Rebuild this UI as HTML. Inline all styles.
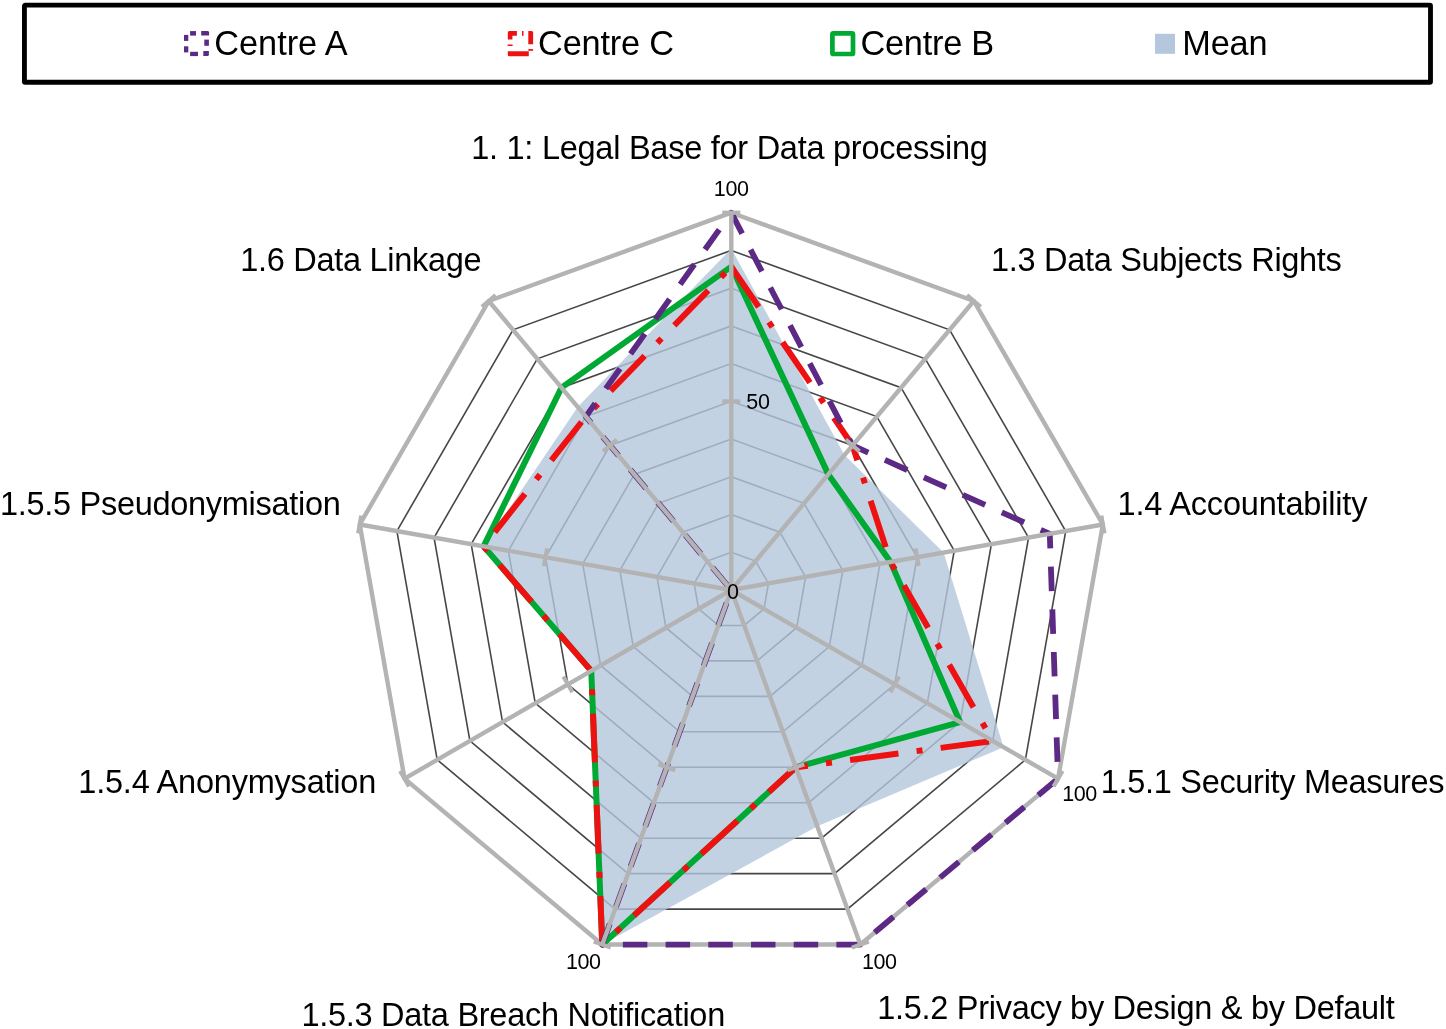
<!DOCTYPE html><html><head><meta charset="utf-8"><style>html,body{margin:0;padding:0;background:#fff;overflow:hidden;}svg{display:block;}text{font-family:"Liberation Sans",sans-serif;}</style></head><body>
<div style="will-change:transform;width:1446px;height:1029px"><svg width="1446" height="1029" viewBox="0 0 1446 1029">
<rect width="1446" height="1029" fill="#fff"/>
<rect x="24.44" y="5.15" width="1406.06" height="77.05" rx="0.8" fill="none" stroke="#000" stroke-width="4.85"/>
<g fill="#5c2a84"><rect x="190.1" y="31.1" width="5.9" height="4.5"/><path d="M201.2 31.1 H207.6 Q209.1 31.1 209.1 32.6 V35.6 H201.2 Z"/><rect x="204.3" y="39.6" width="4.6" height="6.2"/><path d="M203.3 51.1 H208.9 V54.6 Q208.9 56.1 207.4 56.1 H203.3 Z"/><rect x="190.1" y="51.8" width="7.9" height="4.3"/><rect x="184" y="34.9" width="4.3" height="6"/><rect x="184" y="46.3" width="4.3" height="6.1"/></g>
<g fill="#ee1111"><path d="M509.3 31 H516.9 V35.8 H512.4 V39.6 H507.8 V32.5 Q507.8 31 509.3 31 Z"/><rect x="522" y="31" width="1.5" height="4.8"/><path d="M528.3 31 H531.6 Q533.1 31 533.1 32.5 V44.2 H528.3 Z"/><rect x="507.6" y="44.5" width="5" height="1.5"/><rect x="528.3" y="49.1" width="4.8" height="1.7"/><path d="M507.8 51.3 H528.8 V56.2 H509.3 Q507.8 56.2 507.8 54.7 Z"/></g>
<rect x="832.4" y="33.4" width="20.6" height="20.6" rx="1" fill="none" stroke="#00a933" stroke-width="4.7"/>
<rect x="1155" y="33.8" width="20" height="20" fill="#b4c7dc"/>
<polygon points="731.30,552.27 755.55,561.10 768.46,583.45 763.98,608.87 744.20,625.45 718.40,625.45 698.62,608.87 694.14,583.45 707.05,561.10" fill="none" stroke="#474747" stroke-width="1.6"/>
<polygon points="731.30,514.54 779.80,532.19 805.61,576.90 796.65,627.73 757.11,660.91 705.49,660.91 665.95,627.73 656.99,576.90 682.80,532.19" fill="none" stroke="#474747" stroke-width="1.6"/>
<polygon points="731.30,476.81 804.06,503.29 842.77,570.34 829.33,646.60 770.01,696.36 692.59,696.36 633.27,646.60 619.83,570.34 658.54,503.29" fill="none" stroke="#474747" stroke-width="1.6"/>
<polygon points="731.30,439.08 828.31,474.39 879.93,563.79 862.00,665.46 782.92,731.82 679.68,731.82 600.60,665.46 582.67,563.79 634.29,474.39" fill="none" stroke="#474747" stroke-width="1.6"/>
<polygon points="731.30,401.35 852.56,445.49 917.08,557.24 894.68,684.32 795.82,767.27 666.78,767.27 567.92,684.33 545.52,557.24 610.04,445.49" fill="none" stroke="#474747" stroke-width="1.6"/>
<polygon points="731.30,363.62 876.81,416.58 954.24,550.69 927.35,703.19 808.73,802.73 653.87,802.73 535.25,703.19 508.36,550.69 585.79,416.58" fill="none" stroke="#474747" stroke-width="1.6"/>
<polygon points="731.30,325.89 901.07,387.68 991.40,544.14 960.03,722.05 821.63,838.18 640.97,838.18 502.57,722.06 471.20,544.14 561.53,387.68" fill="none" stroke="#474747" stroke-width="1.6"/>
<polygon points="731.30,288.16 925.32,358.78 1028.55,537.59 992.70,740.92 834.54,873.64 628.06,873.64 469.90,740.92 434.05,537.59 537.28,358.78" fill="none" stroke="#474747" stroke-width="1.6"/>
<polygon points="731.30,250.43 949.57,329.87 1065.71,531.03 1025.38,759.78 847.44,909.09 615.16,909.09 437.22,759.79 396.89,531.03 513.03,329.87" fill="none" stroke="#474747" stroke-width="1.6"/>
<polygon points="731.30,212.70 973.82,300.97 1102.87,524.48 1058.05,778.65 860.34,944.55 602.26,944.55 404.55,778.65 359.73,524.48 488.78,300.97" fill="none" stroke="#b3b3b3" stroke-width="4.4" stroke-linejoin="miter"/>
<polygon points="731.30,248.63 844.48,455.12 943.62,552.56 1003.59,747.21 817.33,826.36 602.26,944.55 591.26,670.85 483.59,546.32 577.70,406.95" fill="#b4c7dc" fill-opacity="0.8"/>
<polygon points="731.30,266.60 828.31,474.39 890.54,561.92 960.03,722.05 795.82,767.27 602.26,944.55 591.26,670.85 483.59,546.32 561.53,387.68" fill="none" stroke="#00a933" stroke-width="6" stroke-linejoin="round"/>
<polygon points="731.30,266.60 852.56,445.49 890.54,561.92 992.70,740.92 795.82,767.27 602.26,944.55 591.26,670.85 483.59,546.32 585.79,416.58" fill="none" stroke="#ee1111" stroke-width="6" stroke-linejoin="round" stroke-dasharray="48.8 18.3 6 18.3"/>
<polygon points="731.30,212.70 852.56,445.49 1049.79,533.84 1058.05,778.65 860.34,944.55 602.26,944.55 731.30,590.00 731.30,590.00 585.79,416.58" fill="none" stroke="#5c2a84" stroke-width="5.8" stroke-linejoin="round" stroke-dasharray="24.5 18.2" stroke-dashoffset="1"/>
<line x1="731.3" y1="590.0" x2="731.30" y2="212.70" stroke="#b3b3b3" stroke-width="4.4"/>
<line x1="731.3" y1="590.0" x2="973.82" y2="300.97" stroke="#b3b3b3" stroke-width="4.4"/>
<line x1="731.3" y1="590.0" x2="1102.87" y2="524.48" stroke="#b3b3b3" stroke-width="4.4"/>
<line x1="731.3" y1="590.0" x2="1058.05" y2="778.65" stroke="#b3b3b3" stroke-width="4.4"/>
<line x1="731.3" y1="590.0" x2="860.34" y2="944.55" stroke="#b3b3b3" stroke-width="4.4"/>
<line x1="731.3" y1="590.0" x2="602.26" y2="944.55" stroke="#b3b3b3" stroke-width="4.4"/>
<line x1="731.3" y1="590.0" x2="404.55" y2="778.65" stroke="#b3b3b3" stroke-width="4.4"/>
<line x1="731.3" y1="590.0" x2="359.73" y2="524.48" stroke="#b3b3b3" stroke-width="4.4"/>
<line x1="731.3" y1="590.0" x2="488.78" y2="300.97" stroke="#b3b3b3" stroke-width="4.4"/>
<line x1="722.30" y1="401.35" x2="740.30" y2="401.35" stroke="#b3b3b3" stroke-width="4.2"/>
<line x1="722.30" y1="212.70" x2="740.30" y2="212.70" stroke="#b3b3b3" stroke-width="4.2"/>
<line x1="845.67" y1="439.70" x2="859.46" y2="451.27" stroke="#b3b3b3" stroke-width="4.2"/>
<line x1="966.93" y1="295.19" x2="980.72" y2="306.76" stroke="#b3b3b3" stroke-width="4.2"/>
<line x1="915.52" y1="548.38" x2="918.65" y2="566.10" stroke="#b3b3b3" stroke-width="4.2"/>
<line x1="1101.31" y1="515.62" x2="1104.43" y2="533.35" stroke="#b3b3b3" stroke-width="4.2"/>
<line x1="899.18" y1="676.53" x2="890.18" y2="692.12" stroke="#b3b3b3" stroke-width="4.2"/>
<line x1="1062.55" y1="770.86" x2="1053.55" y2="786.44" stroke="#b3b3b3" stroke-width="4.2"/>
<line x1="804.28" y1="764.19" x2="787.36" y2="770.35" stroke="#b3b3b3" stroke-width="4.2"/>
<line x1="868.80" y1="941.47" x2="851.89" y2="947.62" stroke="#b3b3b3" stroke-width="4.2"/>
<line x1="675.24" y1="770.35" x2="658.32" y2="764.19" stroke="#b3b3b3" stroke-width="4.2"/>
<line x1="610.71" y1="947.62" x2="593.80" y2="941.47" stroke="#b3b3b3" stroke-width="4.2"/>
<line x1="572.42" y1="692.12" x2="563.42" y2="676.53" stroke="#b3b3b3" stroke-width="4.2"/>
<line x1="409.05" y1="786.44" x2="400.05" y2="770.86" stroke="#b3b3b3" stroke-width="4.2"/>
<line x1="543.95" y1="566.10" x2="547.08" y2="548.38" stroke="#b3b3b3" stroke-width="4.2"/>
<line x1="358.17" y1="533.35" x2="361.29" y2="515.62" stroke="#b3b3b3" stroke-width="4.2"/>
<line x1="603.14" y1="451.27" x2="616.93" y2="439.70" stroke="#b3b3b3" stroke-width="4.2"/>
<line x1="481.88" y1="306.76" x2="495.67" y2="295.19" stroke="#b3b3b3" stroke-width="4.2"/>
<text x="214.22" y="55.00" font-size="34.3" fill="#000" textLength="133.46" lengthAdjust="spacing">Centre A</text>
<text x="538.02" y="55.00" font-size="34.3" fill="#000" textLength="136.09" lengthAdjust="spacing">Centre C</text>
<text x="860.46" y="55.00" font-size="34.3" fill="#000" textLength="133.74" lengthAdjust="spacing">Centre B</text>
<text x="1182.25" y="55.00" font-size="34.3" fill="#000" textLength="85.29" lengthAdjust="spacing">Mean</text>
<text x="713.71" y="196.00" font-size="21.5" fill="#000" textLength="35.30" lengthAdjust="spacing">100</text>
<text x="746.36" y="409.00" font-size="21.5" fill="#000" textLength="23.56" lengthAdjust="spacing">50</text>
<text x="726.96" y="599.00" font-size="21.5" fill="#000">0</text>
<text x="1062.24" y="801.00" font-size="21.5" fill="#000" textLength="35.07" lengthAdjust="spacing">100</text>
<text x="861.90" y="969.00" font-size="21.5" fill="#000" textLength="35.11" lengthAdjust="spacing">100</text>
<text x="566.12" y="969.00" font-size="21.5" fill="#000" textLength="34.75" lengthAdjust="spacing">100</text>
<text x="471.20" y="159.00" font-size="32.5" fill="#000" textLength="516.68" lengthAdjust="spacing">1. 1: Legal Base for Data processing</text>
<text x="991.03" y="271.00" font-size="32.5" fill="#000" textLength="350.80" lengthAdjust="spacing">1.3 Data Subjects Rights</text>
<text x="1117.62" y="515.00" font-size="32.5" fill="#000" textLength="249.77" lengthAdjust="spacing">1.4 Accountability</text>
<text x="1100.76" y="793.00" font-size="32.5" fill="#000" textLength="343.79" lengthAdjust="spacing">1.5.1 Security Measures</text>
<text x="877.16" y="1019.00" font-size="32.5" fill="#000" textLength="517.65" lengthAdjust="spacing">1.5.2 Privacy by Design &amp; by Default</text>
<text x="301.47" y="1026.00" font-size="32.5" fill="#000" textLength="423.77" lengthAdjust="spacing">1.5.3 Data Breach Notification</text>
<text x="78.27" y="793.00" font-size="32.5" fill="#000" textLength="298.05" lengthAdjust="spacing">1.5.4 Anonymysation</text>
<text x="0.04" y="515.00" font-size="32.5" fill="#000" textLength="340.71" lengthAdjust="spacing">1.5.5 Pseudonymisation</text>
<text x="240.17" y="271.00" font-size="32.5" fill="#000" textLength="241.46" lengthAdjust="spacing">1.6 Data Linkage</text>
</svg></div></body></html>
